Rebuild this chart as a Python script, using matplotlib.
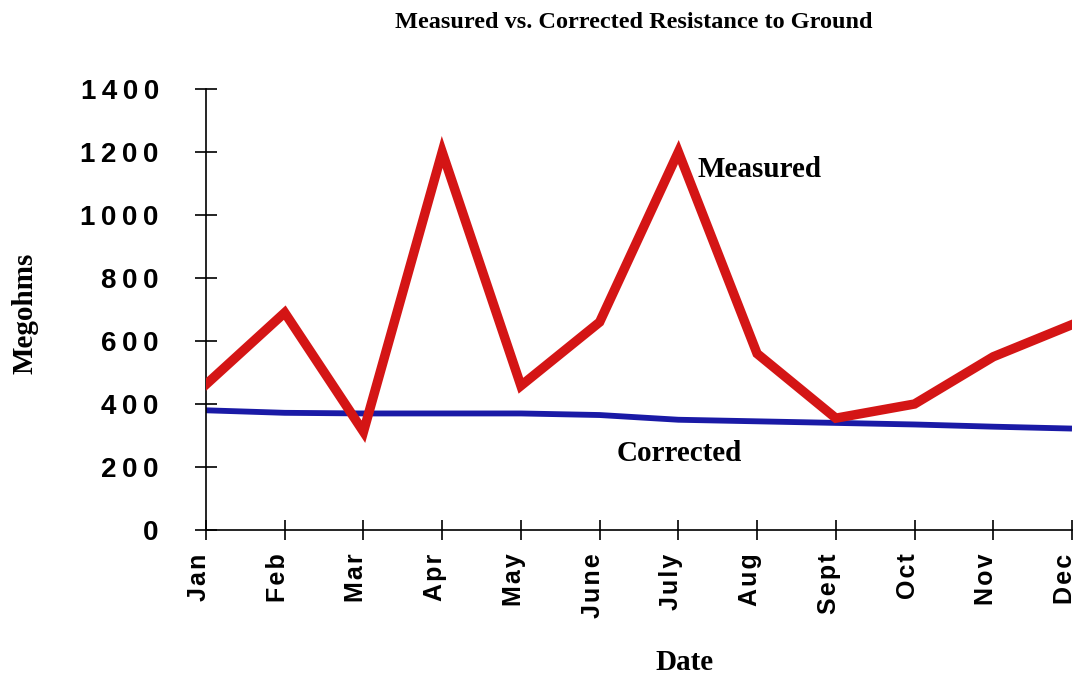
import matplotlib
matplotlib.use("Agg")
import matplotlib.pyplot as plt
from matplotlib.ticker import FuncFormatter

months = ["Jan", "Feb", "Mar", "Apr", "May", "June", "July", "Aug", "Sept", "Oct", "Nov", "Dec"]
measured = [462, 690, 312, 1200, 458, 660, 1200, 560, 355, 400, 550, 652]
corrected = [380, 372, 370, 370, 370, 365, 350, 345, 340, 335, 328, 322]
yticks = [0, 200, 400, 600, 800, 1000, 1200, 1400]

SANS = ["Liberation Sans", "DejaVu Sans"]
SERIF = ["Liberation Serif", "DejaVu Serif"]

fig = plt.figure(figsize=(10.78, 6.77), dpi=100)
ax = fig.add_axes([206/1078, 1 - 530/677, 866/1078, 441/677])

x = list(range(len(months)))
ax.plot(x, corrected, color="#1a1aa6", lw=4.2, solid_capstyle="butt", zorder=2)
ax.plot(x, measured, color="#d41515", lw=6.8, solid_joinstyle="miter", zorder=3)

ax.set_xlim(0, len(months) - 1)
ax.set_ylim(0, 1400)
ax.set_xticks(x)
ax.set_xticklabels(["\u200a".join(m) for m in months], rotation=90, family=SANS,
                   fontsize=18, fontweight="bold", ha="right", va="baseline",
                   rotation_mode="anchor")
ax.set_yticks(yticks)
ax.yaxis.set_major_formatter(FuncFormatter(lambda v, p: "\u2009".join(str(int(v)))))
for lab in ax.get_yticklabels():
    lab.set_family(SANS)
    lab.set_fontsize(20)
    lab.set_fontweight("bold")

for s in ["top", "right"]:
    ax.spines[s].set_visible(False)
for s in ["left", "bottom"]:
    ax.spines[s].set_linewidth(1.2)
    ax.spines[s].set_color("black")
ax.tick_params(axis="y", direction="inout", length=16, width=1.2, pad=26)
ax.tick_params(axis="x", direction="inout", length=14, width=1.2, pad=10)

ax.text(6.24, 1143, "Measured", family=SERIF, fontweight="bold", fontsize=21,
        ha="left", va="center")
ax.text(5.22, 244, "Corrected", family=SERIF, fontweight="bold", fontsize=21,
        ha="left", va="center")

fig.text(634/1078, 1 - 22/677, "Measured vs. Corrected Resistance to Ground",
         family=SERIF, fontweight="bold", fontsize=17.5, ha="center", va="center")
fig.text(25/1078, 1 - 313/677, "Megohms", family=SERIF, fontweight="bold",
         fontsize=21, rotation=90, ha="center", va="center")
fig.text(685/1078, 1 - 663/677, "Date", family=SERIF, fontweight="bold",
         fontsize=21, ha="center", va="center")

fig.savefig("out.png", dpi=100, facecolor="white")
